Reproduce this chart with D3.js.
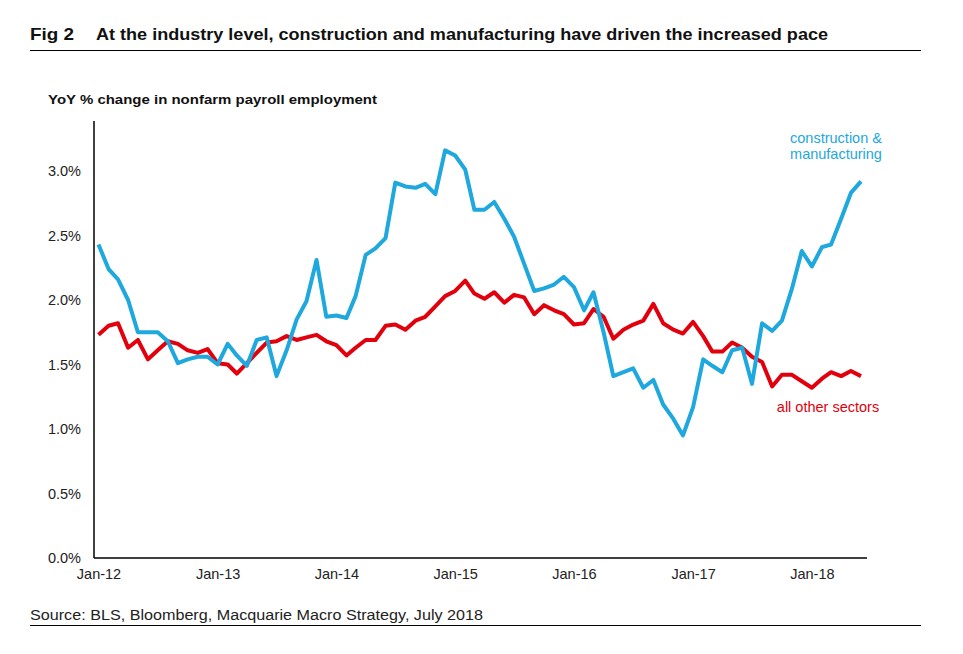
<!DOCTYPE html>
<html>
<head>
<meta charset="utf-8">
<script src="https://cdnjs.cloudflare.com/ajax/libs/d3/7.8.5/d3.min.js"></script>
<style>
  body { margin: 0; background: #fff; }
  svg { font-family: "Liberation Sans", Arial, sans-serif; }
</style>
</head>
<body>
<svg id="chart"></svg>
<script>
// monthly YoY % change, Jan-12 .. Jun-18
var startMonth = new Date(2012, 0, 1);
var endMonth = new Date(2018, 5, 1);
var months = d3.timeMonth.range(startMonth, d3.timeMonth.offset(endMonth, 1));

var constructionMfg = [
  2.43, 2.24, 2.16, 2.00, 1.75, 1.75, 1.75, 1.68, 1.51, 1.54, 1.56, 1.56,
  1.50, 1.66, 1.57, 1.49, 1.69, 1.71, 1.41, 1.61, 1.85, 1.99, 2.31, 1.87,
  1.88, 1.86, 2.03, 2.35, 2.40, 2.48, 2.91, 2.88, 2.87, 2.90, 2.82, 3.16,
  3.12, 3.01, 2.70, 2.70, 2.76, 2.63, 2.49, 2.28, 2.07, 2.09, 2.12, 2.18,
  2.10, 1.92, 2.06, 1.75, 1.41, 1.44, 1.47, 1.32, 1.38, 1.19, 1.08, 0.95,
  1.17, 1.54, 1.49, 1.44, 1.61, 1.63, 1.35, 1.82, 1.76, 1.84, 2.09, 2.38,
  2.26, 2.41, 2.43, 2.63, 2.83, 2.92
];

var otherSectors = [
  1.73, 1.80, 1.82, 1.63, 1.69, 1.54, 1.61, 1.68, 1.66, 1.61, 1.59, 1.62,
  1.51, 1.50, 1.43, 1.51, 1.59, 1.67, 1.68, 1.72, 1.69, 1.71, 1.73, 1.68,
  1.65, 1.57, 1.63, 1.69, 1.69, 1.80, 1.81, 1.77, 1.84, 1.87, 1.95, 2.03,
  2.07, 2.15, 2.05, 2.01, 2.06, 1.98, 2.04, 2.02, 1.89, 1.96, 1.92, 1.89,
  1.81, 1.82, 1.93, 1.87, 1.70, 1.77, 1.81, 1.84, 1.97, 1.82, 1.77, 1.74,
  1.83, 1.72, 1.60, 1.60, 1.67, 1.63, 1.56, 1.52, 1.33, 1.42, 1.42, 1.37,
  1.32, 1.39, 1.44, 1.41, 1.45, 1.41
];

var yTicks = [0, 0.5, 1.0, 1.5, 2.0, 2.5, 3.0];
var xTickDates = d3.timeYear.range(new Date(2012, 0, 1), new Date(2018, 1, 1));

var titleFig = "Fig 2";
var titleText = "At the industry level, construction and manufacturing have driven the increased pace";
var subtitleText = "YoY % change in nonfarm payroll employment";
var sourceText = "Source: BLS, Bloomberg, Macquarie Macro Strategy, July 2018";
var blueLabel = ["construction &", "manufacturing"];
var redLabel = "all other sectors";

var W = 963, H = 654;
var blue = "#1ea8dd", red = "#e2000d";

var svg = d3.select("#chart").attr("width", W).attr("height", H);

// fit a text element to a given width
function fitText(sel, w) {
  var len = sel.node().getComputedTextLength();
  if (Math.abs(len - w) > 2) {
    sel.attr("textLength", w).attr("lengthAdjust", "spacingAndGlyphs");
  }
}

// header
svg.append("text").attr("x", 30).attr("y", 40)
  .attr("font-size", 17).attr("font-weight", "bold").attr("fill", "#111")
  .text(titleFig).call(fitText, 44);
svg.append("text").attr("x", 96).attr("y", 40)
  .attr("font-size", 17).attr("font-weight", "bold").attr("fill", "#111")
  .text(titleText).call(fitText, 732);
svg.append("line").attr("x1", 30).attr("x2", 921).attr("y1", 50.5).attr("y2", 50.5)
  .attr("stroke", "#000").attr("stroke-width", 1);

svg.append("text").attr("x", 48).attr("y", 104)
  .attr("font-size", 13.5).attr("font-weight", "bold").attr("fill", "#111")
  .text(subtitleText).call(fitText, 329);

// scales
var x = d3.scaleTime().domain([startMonth, endMonth]).range([98.5, 861]);
var y = d3.scaleLinear().domain([0, 3.4]).range([558, 119.4]);

// axes
var yAxis = svg.append("g").attr("transform", "translate(94,0)")
  .call(d3.axisLeft(y).tickValues(yTicks).tickSize(0).tickPadding(13)
    .tickFormat(function (d) { return d3.format(".1f")(d) + "%"; }));
yAxis.select(".domain").attr("stroke", "#000").attr("stroke-width", 1.5)
  .attr("d", "M0," + 121 + "V" + 558);
yAxis.selectAll("text").attr("font-size", 14.5).attr("fill", "#222")
  .attr("font-family", "Liberation Sans, Arial, sans-serif");

var xAxis = svg.append("g").attr("transform", "translate(0,558)")
  .call(d3.axisBottom(x).tickValues(xTickDates).tickSize(0).tickPadding(11)
    .tickFormat(d3.timeFormat("Jan-%y")));
xAxis.select(".domain").attr("stroke", "#000").attr("stroke-width", 1.5)
  .attr("d", "M94,0H867");
xAxis.selectAll("text").attr("font-size", 14.5).attr("fill", "#222")
  .attr("font-family", "Liberation Sans, Arial, sans-serif");

// lines
var line = d3.line()
  .x(function (d, i) { return x(months[i]); })
  .y(function (d) { return y(d); });

svg.append("path").datum(otherSectors)
  .attr("fill", "none").attr("stroke", red).attr("stroke-width", 4)
  .attr("stroke-linejoin", "round").attr("d", line);

svg.append("path").datum(constructionMfg)
  .attr("fill", "none").attr("stroke", blue).attr("stroke-width", 4)
  .attr("stroke-linejoin", "round").attr("d", line);

// series labels
svg.selectAll(".blab").data(blueLabel).enter().append("text")
  .attr("x", 836).attr("y", function (d, i) { return 143 + i * 16; })
  .attr("text-anchor", "middle").attr("font-size", 14.5).attr("fill", blue)
  .text(function (d) { return d; });

svg.append("text").attr("x", 828).attr("y", 412)
  .attr("text-anchor", "middle").attr("font-size", 14.5).attr("fill", red)
  .text(redLabel);

// footer
svg.append("text").attr("x", 30).attr("y", 620)
  .attr("font-size", 15.5).attr("fill", "#222")
  .text(sourceText).call(fitText, 453);
svg.append("line").attr("x1", 30).attr("x2", 921).attr("y1", 625.5).attr("y2", 625.5)
  .attr("stroke", "#000").attr("stroke-width", 1);
</script>
</body>
</html>
